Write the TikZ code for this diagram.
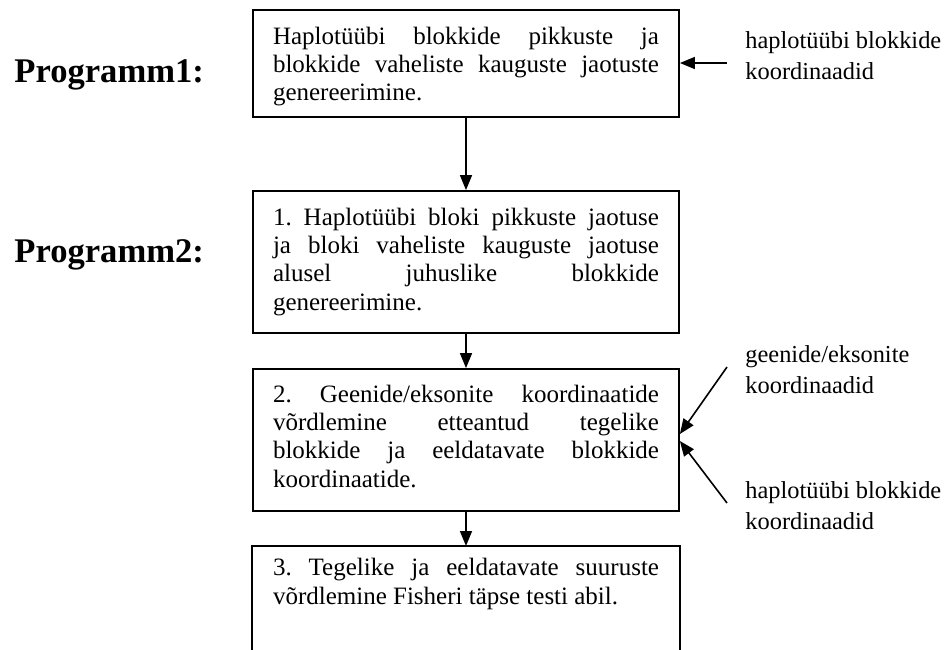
\documentclass[tikz,border=0pt]{standalone}
\usepackage{fontspec}
\setmainfont{Liberation Serif}
\usepackage{tikz}
\usetikzlibrary{arrows.meta}
\frenchspacing
\newcommand{\fullline}[1]{\makebox[193pt][s]{#1}\\}

\begin{document}
\begin{tikzpicture}[x=0.5pt, y=-0.5pt,
	stage/.style={draw, line width=0.9pt, text width=193pt, inner xsep=10pt, inner ysep=0pt, align=justify, font=\fontsize{12.5}{14.2}\selectfont},
	flow/.style={line width=0.8pt, -{Triangle[length=7.5pt, width=6pt]}},
	prog/.style={anchor=base west, inner sep=0pt, font=\fontsize{17.3}{20}\selectfont\bfseries},
	input/.style={anchor=base west, inner sep=0pt, align=left, font=\fontsize{12.2}{15.3}\selectfont}]
	\useasboundingbox (0,0) rectangle (949,649);
	\coordinate (pageBottom) at (0,652);
	\coordinate (hapIn1) at (727,63);
	\coordinate (geneIn) at (727,367);
	\coordinate (hapIn2) at (727,503);

	\node[prog] (prog1) at (14,82) {Programm1:};
	\node[prog] (prog2) at (14,262) {Programm2:};

	\node[stage, text height=17pt, text depth=36.5pt] (gen1) at (466,63.5) {\fullline{Haplotüübi blokkide pikkuste ja}\fullline{blokkide vaheliste kauguste jaotuste}genereerimine.};
	\node[stage, text height=17pt, text depth=54pt] (step1) at (466,262) {\fullline{1. Haplotüübi bloki pikkuste jaotuse}\fullline{ja bloki vaheliste kauguste jaotuse}\fullline{alusel juhuslike blokkide}genereerimine.};
	\node[stage, text height=16.5pt, text depth=54.5pt] (step2) at (466,440) {\fullline{2. Geenide/eksonite koordinaatide}\fullline{võrdlemine etteantud tegelike}\fullline{blokkide ja eeldatavate blokkide}koordinaatide.};
	\node[stage, draw=none, anchor=north, text height=14.5pt, text depth=60pt] (step3) at (466,546) {\fullline{3. Tegelike ja eeldatavate suuruste}võrdlemine Fisheri täpse testi abil.};
	% last box runs off the page
	\draw[line width=0.9pt] (step3.north west |- pageBottom) -- (step3.north west) -- (step3.north east) -- (step3.north east |- pageBottom);

	\node[input] (inHap1) at (745,79) {haplotüübi blokkide\\koordinaadid};
	\node[input] (inGene) at (745,393) {geenide/eksonite\\koordinaadid};
	\node[input] (inHap2) at (745,529) {haplotüübi blokkide\\koordinaadid};

	\draw[flow] (gen1) -- (step1);
	\draw[flow] (step1) -- (step2);
	\draw[flow] (step2) -- (step3);
	\draw[flow] (hapIn1) -- (gen1.east |- hapIn1);
	\draw[flow] (geneIn) -- ([yshift=3pt]step2.east);
	\draw[flow] (hapIn2) -- ([yshift=-0.5pt]step2.east);

\end{tikzpicture}
\end{document}
